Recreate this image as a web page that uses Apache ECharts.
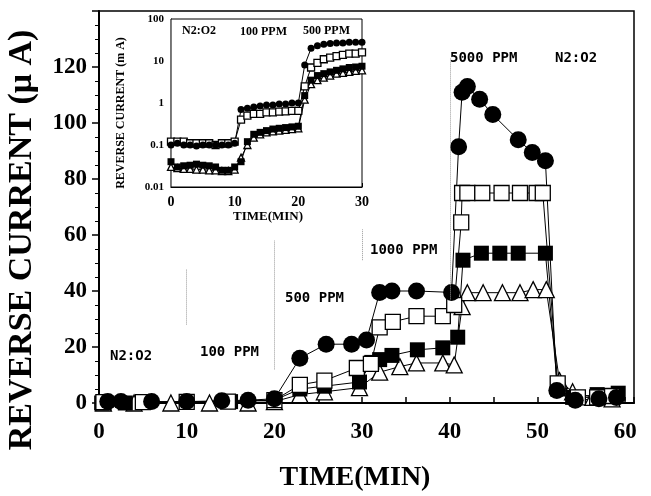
<!DOCTYPE html>
<html>
<head>
<meta charset="utf-8">
<script src="https://cdn.jsdelivr.net/npm/echarts@6/dist/echarts.min.js"></script>
<style>
  html, body { margin: 0; padding: 0; background: #fff; }
  #chart { width: 651px; height: 496px; }
</style>
</head>
<body>
<div id="chart"></div>
<script>
// main plot: time (min) / reverse current (uA)
var circT = [1, 2.5, 6, 10, 14, 17, 20, 22.9, 25.9, 28.8, 30.5, 32, 33.4, 36.2, 40.2, 41, 41.4, 42, 43.4, 44.9, 47.8, 49.4, 50.9, 52.2, 54.3, 57, 59];
var circV = [0.5, 0.5, 0.5, 0.5, 0.8, 1, 1.5, 16, 21, 21, 22.5, 39.5, 40, 40, 39.5, 91.5, 111, 113, 108.5, 103, 94, 89.5, 86.5, 4.5, 1, 1.5, 2];

var oSqT = [0.5, 5, 10, 14.7, 20, 22.9, 25.7, 29.4, 31, 32, 33.5, 36.2, 39.2, 40.5, 41.3, 41.4, 42, 43.7, 45.9, 48, 49.9, 50.6, 52.3, 54.6, 56.8, 58.5];
var oSqV = [0.3, 0.3, 0.4, 0.5, 1, 6.5, 8, 12.5, 14, 27, 29, 31, 31, 35, 64.5, 75, 75, 75, 75, 75, 75, 75, 7, 2, 2, 2.5];

var fSqT = [0.3, 3, 10, 15, 20, 22.9, 25.7, 29.7, 31.1, 32, 33.4, 36.3, 39.2, 40.9, 41.5, 43.6, 45.7, 47.8, 50.9, 52.3, 54, 56.8, 59.2];
var fSqV = [0, 0, 0.5, 0.5, 1, 5, 6, 7.5, 14.5, 15.5, 17, 19, 19.7, 23.5, 51, 53.5, 53.5, 53.5, 53.5, 5, 2, 3, 3.5];

var triT = [0.5, 4, 8.2, 12.6, 17, 20, 22.9, 25.7, 29.7, 32, 34.3, 36.2, 39.2, 40.5, 41.4, 42, 43.8, 46, 48, 49.5, 51, 52.5, 54, 56.3, 58.5];
var triV = [0, 0, 0, 0, 0, 0.5, 3, 4, 5.5, 11, 13, 14.3, 14.3, 13.6, 34.4, 39.4, 39.4, 39.4, 39.4, 40.5, 40.5, 8, 4, 2, 1.5];

// inset: time (min) / reverse current (log)
var inT = [0, 1, 2, 3, 4, 5, 6, 7, 8, 9, 10, 11, 12, 13, 14, 15, 16, 17, 18, 19, 20, 21, 22, 23, 24, 25, 26, 27, 28, 29, 30];
var inCirc = [0.1, 0.11, 0.1, 0.1, 0.095, 0.1, 0.1, 0.1, 0.1, 0.1, 0.11, 0.7, 0.75, 0.8, 0.85, 0.9, 0.9, 0.95, 0.95, 1, 1, 8, 20, 23, 25, 26, 27, 27, 28, 28, 28];
var inOSq = [0.12, 0.12, 0.12, 0.11, 0.11, 0.11, 0.11, 0.1, 0.11, 0.11, 0.12, 0.4, 0.5, 0.55, 0.55, 0.6, 0.6, 0.62, 0.63, 0.65, 0.65, 2.5, 7, 9, 11, 12, 13, 14, 15, 15, 16];
var inFSq = [0.04, 0.03, 0.032, 0.033, 0.035, 0.033, 0.032, 0.03, 0.025, 0.025, 0.03, 0.04, 0.12, 0.18, 0.2, 0.22, 0.24, 0.25, 0.26, 0.27, 0.28, 1.5, 3.5, 4.5, 5, 5.5, 6, 6.5, 7, 7.2, 7.5];
var inTri = [0.03, 0.028, 0.027, 0.027, 0.026, 0.026, 0.025, 0.025, 0.024, 0.024, 0.026, 0.05, 0.1, 0.15, 0.18, 0.2, 0.21, 0.22, 0.23, 0.24, 0.25, 1.2, 2.8, 3.5, 4, 4.5, 5, 5.2, 5.5, 5.8, 6];

// gas switch markers [time, from, to] in main plot units
var switchLines = [[10, 28, 48], [20, 12, 58], [30, 51, 62], [40, 37, 123]];

var serif = 'Liberation Serif';
var mono = 'DejaVu Sans Mono';

function pairs(t, v) {
  return t.map(function (x, i) { return [x, v[i]]; });
}

function mk(t, v, symbol, open, size, idx) {
  return {
    type: 'line',
    xAxisIndex: idx,
    yAxisIndex: idx,
    data: pairs(t, v),
    symbol: symbol,
    symbolSize: size,
    showAllSymbol: true,
    lineStyle: { color: '#000', width: 1 },
    itemStyle: open
      ? { color: '#fff', borderColor: '#000', borderWidth: 1.3 }
      : { color: '#000', borderColor: '#000', borderWidth: 0 },
    z: idx === 0 ? 2 : 12,
    silent: true,
    animation: false
  };
}

var chart = echarts.init(document.getElementById('chart'));

var series = [
  mk(triT, triV, 'triangle', true, 16, 0),
  mk(fSqT, fSqV, 'rect', false, 15, 0),
  mk(oSqT, oSqV, 'rect', true, 15, 0),
  mk(circT, circV, 'circle', false, 17, 0),
  mk(inT, inTri, 'triangle', true, 7, 1),
  mk(inT, inFSq, 'rect', false, 7, 1),
  mk(inT, inOSq, 'rect', true, 7, 1),
  mk(inT, inCirc, 'circle', false, 7, 1)
];

series[0].markLine = {
  silent: true,
  symbol: 'none',
  label: { show: false },
  lineStyle: { color: '#999', type: 'dotted', width: 1 },
  data: switchLines.map(function (s) {
    return [{ coord: [s[0], s[1]] }, { coord: [s[0], s[2]] }];
  })
};
series[4].markLine = {
  silent: true,
  symbol: 'none',
  label: { show: false },
  lineStyle: { color: '#aaa', type: 'dotted', width: 1 },
  data: [{ xAxis: 10 }, { xAxis: 20 }]
};

// plain bold text; rot = rotate 90deg, anchor = left|center
function txt(x, y, s, size, font, anchor, rot) {
  return {
    type: 'text', x: x, y: y, z: 50,
    rotation: rot ? Math.PI / 2 : 0,
    style: {
      text: s, fill: '#000', font: 'bold ' + size + 'px ' + font,
      textAlign: anchor || 'left', textVerticalAlign: 'middle'
    }
  };
}

var option = {
  backgroundColor: '#fff',
  animation: false,
  grid: [
    { left: 99, top: 11, right: 17, bottom: 93, show: true, borderColor: '#000', borderWidth: 1.5, backgroundColor: '#fff' },
    { left: 171, top: 19, width: 191, height: 168, show: true, borderColor: '#000', borderWidth: 1, backgroundColor: '#fff', z: 10 }
  ],
  xAxis: [
    {
      type: 'value', gridIndex: 0, min: 0, max: 61, interval: 5,
      axisLine: { lineStyle: { color: '#000', width: 2 } },
      axisTick: { show: true, inside: true, length: 6, lineStyle: { color: '#000', width: 1.5 } },
      splitLine: { show: false },
      axisLabel: {
        color: '#000', fontFamily: serif, fontWeight: 'bold', fontSize: 23, margin: 18,
        formatter: function (v) { return v % 10 === 0 ? String(v) : ''; }
      }
    },
    {
      type: 'value', gridIndex: 1, min: 0, max: 30, interval: 10,
      axisLine: { lineStyle: { color: '#000', width: 1.2 } },
      axisTick: { show: true, inside: true, length: 4, lineStyle: { color: '#000' } },
      minorTick: { show: true, splitNumber: 4, length: 2, lineStyle: { color: '#000' } },
      splitLine: { show: false },
      axisLabel: { color: '#000', fontFamily: serif, fontWeight: 'bold', fontSize: 14, margin: 8 }
    }
  ],
  yAxis: [
    {
      type: 'value', gridIndex: 0, min: 0, max: 140, interval: 20,
      axisLine: { lineStyle: { color: '#000', width: 2 } },
      axisTick: { show: true, inside: false, length: 7, lineStyle: { color: '#000', width: 1.5 } },
      minorTick: { show: true, splitNumber: 4, length: 4, lineStyle: { color: '#000' } },
      splitLine: { show: false },
      axisLabel: {
        color: '#000', fontFamily: serif, fontWeight: 'bold', fontSize: 23, margin: 12,
        formatter: function (v) { return v === 140 ? '' : String(v); }
      }
    },
    {
      type: 'log', gridIndex: 1, min: 0.01, max: 100, logBase: 10,
      axisLine: { lineStyle: { color: '#000', width: 1.2 } },
      axisTick: { show: true, inside: true, length: 4, lineStyle: { color: '#000' } },
      minorTick: { show: true, splitNumber: 5, length: 2, lineStyle: { color: '#000' } },
      splitLine: { show: false },
      axisLabel: {
        color: '#000', fontFamily: serif, fontWeight: 'bold', fontSize: 11, margin: 7,
        formatter: function (v) { return String(+v.toPrecision(3)); }
      }
    }
  ],
  graphic: [
    txt(22, 240, 'REVERSE CURRENT (\u03bc A)', 34, serif, 'center', true),
    txt(355, 478, 'TIME(MIN)', 28, serif, 'center'),
    txt(121, 113, 'REVERSE CURRENT (m A)', 12, serif, 'center', true),
    txt(268, 217, 'TIME(MIN)', 13, serif, 'center'),
    txt(182, 31, 'N2:O2', 12, serif),
    txt(240, 32, '100 PPM', 12, serif),
    txt(303, 31, '500 PPM', 12, serif),
    txt(110, 356, 'N2:O2', 14, mono),
    txt(200, 352, '100 PPM', 14, mono),
    txt(285, 298, '500 PPM', 14, mono),
    txt(370, 250, '1000 PPM', 14, mono),
    txt(450, 58, '5000 PPM', 14, mono),
    txt(555, 58, 'N2:O2', 14, mono)
  ],
  series: series
};

chart.setOption(option);
</script>
</body>
</html>
